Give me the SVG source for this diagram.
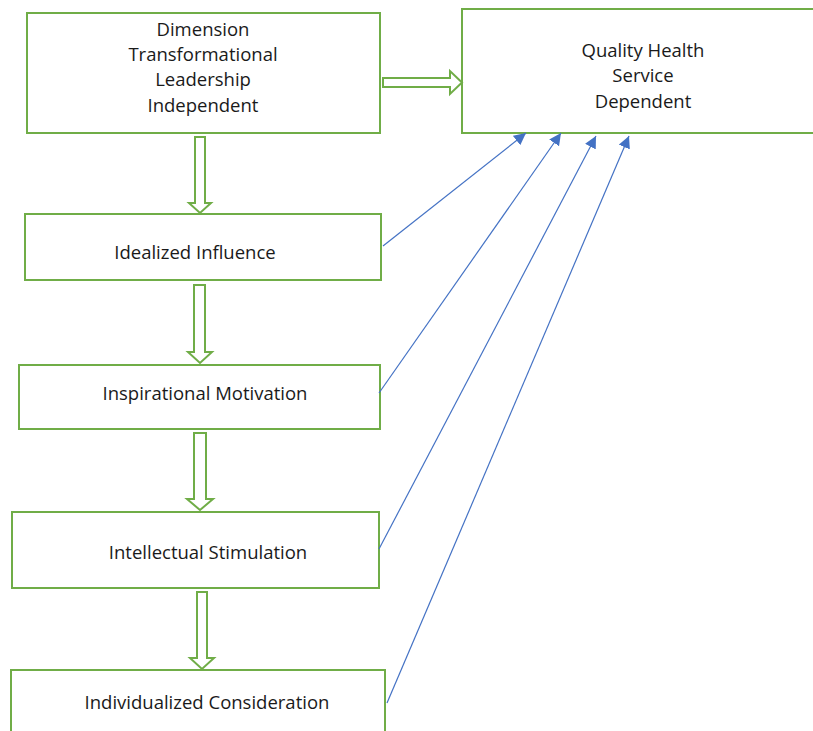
<svg xmlns="http://www.w3.org/2000/svg" width="813" height="731" viewBox="0 0 813 731">
<style>
.box{fill:#fff;stroke:#70AD47;stroke-width:2}
.blk{fill:#fff;stroke:#70AD47;stroke-width:2;stroke-linejoin:miter}
.lnk{stroke:#4472C4;stroke-width:1.2;fill:none}
text{font-family:"Open Sans","Liberation Sans",sans-serif;font-size:18.5px;fill:#1a1a1a;text-anchor:middle;dominant-baseline:central}
</style>
<defs>
<marker id="ah" viewBox="0 0 10 10" refX="10" refY="5" markerWidth="12" markerHeight="12" markerUnits="userSpaceOnUse" orient="auto">
<path d="M0,0L10,5L0,10z" fill="#4472C4"/>
</marker>
</defs>
<rect width="813" height="731" fill="#fff"/>
<g id="n1"><rect class="box" x="27" y="13" width="353" height="120"/>
<text x="203" y="28">Dimension</text><text x="203" y="53">Transformational</text><text x="203" y="78">Leadership</text><text x="203" y="104">Independent</text></g>
<g id="n2"><rect class="box" x="462" y="9" width="360" height="124"/>
<text x="643" y="49">Quality Health</text><text x="643" y="74">Service</text><text x="643" y="100">Dependent</text></g>
<g id="n3"><rect class="box" x="25" y="214" width="356" height="66"/><text x="195" y="251">Idealized Influence</text></g>
<g id="n4"><rect class="box" x="19" y="365" width="361" height="64"/><text x="205" y="392">Inspirational Motivation</text></g>
<g id="n5"><rect class="box" x="12" y="512" width="367" height="76"/><text x="208" y="551">Intellectual Stimulation</text></g>
<g id="n6"><rect class="box" x="11" y="670" width="374" height="70"/><text x="207" y="701">Individualized Consideration</text></g>
<g id="connectors">
<path class="blk" d="M383,78H450V71L462,82.5L450,94V87H383Z"/>
<path class="blk" d="M195,137H205V203H211L200,213L189,203H195Z"/>
<path class="blk" d="M194,285H205V352H212L200,363L188,352H194Z"/>
<path class="blk" d="M194,433H206V499H213L200,510L187,499H194Z"/>
<path class="blk" d="M197,592H207V658H214L202,669L190,658H197Z"/>
<line class="lnk" x1="383" y1="246" x2="526" y2="133" marker-end="url(#ah)"/>
<line class="lnk" x1="379" y1="393" x2="561" y2="133" marker-end="url(#ah)"/>
<line class="lnk" x1="379" y1="549" x2="596" y2="136" marker-end="url(#ah)"/>
<line class="lnk" x1="387" y1="703" x2="629" y2="136" marker-end="url(#ah)"/>
</g>
</svg>
